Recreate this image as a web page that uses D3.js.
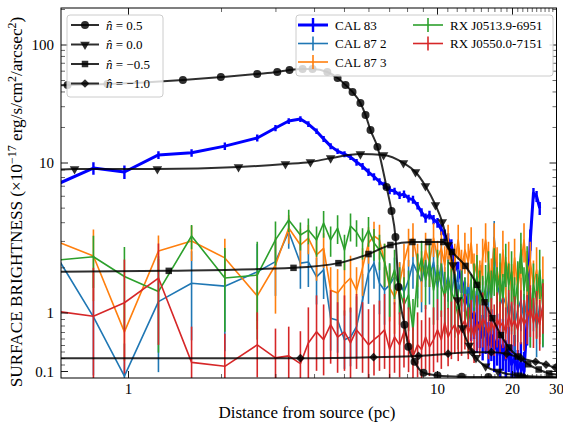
<!DOCTYPE html>
<html>
<head>
<meta charset="utf-8">
<script src="https://cdn.jsdelivr.net/npm/d3@7"></script>
<style>
  body { margin: 0; background: #fff; }
  svg { display: block; }
  text { font-family: "Liberation Serif", "DejaVu Serif", serif; fill: #000; }
</style>
</head>
<body>
<svg id="chart" width="563" height="425"></svg>
<script>
// Radial bins (pc) shared by every observed source
const distances = [0.6, 0.77, 0.97, 1.25, 1.6, 2.05, 2.61, 2.99, 3.3, 3.6, 3.82, 4.06, 4.28, 4.51, 4.75, 5.0, 5.23, 5.47, 5.72, 5.98, 6.23, 6.49, 6.74, 7.0, 7.26, 7.54, 7.79, 8.06, 8.33, 8.62, 8.88, 9.15, 9.42, 9.71, 10.0, 10.36, 10.69, 11.03, 11.37, 11.73, 12.11, 12.49, 12.88, 13.29, 13.65, 14.02, 14.4, 14.79, 15.18, 15.6, 16.02, 16.45, 16.89, 17.35, 17.82, 18.3, 18.79, 19.31, 19.83, 20.39, 20.99, 21.61, 22.24, 22.89, 23.57, 24.26, 24.97, 25.7, 26.46];

// Observed surface brightness profiles (x1e-17 erg/s/cm^2/arcsec^2) and 1-sigma errors
const cal83 = [7.36, 9.26, 8.71, 11.7, 12.2, 13.9, 16.3, 19.8, 22.7, 23.6, 21.4, 18.6, 16.0, 13.9, 12.6, 11.9, 11.2, 10.2, 9.5, 8.7, 8.1, 7.5, 7.1, 6.6, 6.5, 6.1, 6.2, 5.8, 5.7, 5.2, 4.7, 4.3, 4.5, 4.2, 4.0, 3.6, 3.3, 3.1, 2.8, 2.2, 1.9, 1.66, 1.32, 1.13, 0.92, 1.0, 0.74, 0.86, 0.62, 0.77, 0.51, 0.66, 0.44, 0.59, 0.36, 0.51, 0.28, 0.44, 0.21, 0.31, 0.13, 0.25, 0.1, 0.9, 3.1, 6.3, 6.0, 5.0, null];
const cal83Err = [0.5, 0.9, 0.9, 0.9, 0.9, 1.0, 1.1, 1.2, 1.3, 1.3, 1.2, 1.0, 0.9, 0.8, 0.7, 0.7, 0.6, 0.6, 0.5, 0.5, 0.45, 0.4, 0.4, 0.4, 0.35, 0.35, 0.35, 0.35, 0.35, 0.3, 0.3, 0.3, 0.3, 0.3, 0.3, 0.3, 0.3, 0.3, 0.3, 0.3, 0.3, 0.3, 0.3, 0.35, 0.35, 0.4, 0.35, 0.4, 0.35, 0.4, 0.35, 0.4, 0.35, 0.4, 0.35, 0.4, 0.3, 0.35, 0.3, 0.35, 0.3, 0.3, 0.3, 0.4, 0.5, 0.5, 0.5, 0.5, null];

const cal87b = [2.2, 0.94, 0.03, 1.19, 1.58, 1.51, 1.88, 2.2, 3.48, 2.15, 2.19, 1.74, 1.94, 0.92, 0.89, 0.59, 0.63, 0.79, 1.22, 1.85, 2.15, 1.58, 1.42, 1.54, 1.74, 1.58, 1.38, 1.66, 2.15, 1.85, 1.61, 2.19, 1.74, 2.19, 1.49, 2.15, 1.42, 1.79, 1.32, 1.88, 1.36, 1.71, 1.22, 1.58, 1.17, 1.47, 1.05, 1.49, 1.22, 1.13, 1.54, 1.22, 3.2, 1.58, 1.28, 1.13, 1.28, 0.92, 1.17, 0.82, 1.05, 1.22, 0.89, 1.28, 0.92, 1.22, 0.77, 1.13, 0.92];
const cal87bErr = [1.0, 0.9, 0.5, 1.1, 1.0, 1.1, 1.0, 0.9, 0.8, 0.7, 0.7, 0.6, 0.7, 0.5, 0.5, 0.45, 0.45, 0.5, 0.6, 0.7, 0.7, 0.6, 0.6, 0.6, 0.6, 0.6, 0.6, 0.6, 0.7, 0.6, 0.6, 0.7, 0.6, 0.7, 0.6, 0.7, 0.6, 0.6, 0.6, 0.6, 0.6, 0.6, 0.5, 0.6, 0.5, 0.6, 0.5, 0.6, 0.5, 0.5, 0.6, 0.5, 0.9, 0.6, 0.5, 0.5, 0.5, 0.45, 0.5, 0.45, 0.5, 0.5, 0.45, 0.5, 0.45, 0.5, 0.45, 0.5, 0.45];

const cal87c = [2.94, 2.40, 0.71, 2.59, 3.02, 2.33, 1.30, 2.09, 3.69, 2.84, 3.16, 2.44, 2.7, 1.42, 1.36, 1.56, 1.71, 1.42, 2.0, 2.93, 3.26, 3.07, 2.19, 1.47, 1.28, 1.58, 2.19, 2.84, 3.16, 2.19, 1.88, 2.63, 2.19, 3.16, 2.33, 2.7, 2.09, 3.07, 1.88, 2.19, 3.07, 1.94, 2.63, 2.19, 2.93, 1.79, 2.19, 1.54, 2.33, 3.07, 2.19, 1.61, 3.07, 1.94, 1.47, 2.63, 1.66, 2.19, 1.42, 2.33, 1.47, 2.09, 3.07, 1.79, 2.19, 1.54, 1.94, 1.22, 1.58];
const cal87cErr = [1.0, 1.2, 0.45, 0.7, 0.8, 0.8, 0.55, 1.1, 0.8, 0.8, 0.7, 0.8, 0.7, 0.6, 0.6, 0.6, 0.7, 0.6, 0.7, 0.8, 0.8, 0.8, 0.7, 0.6, 0.6, 0.6, 0.7, 0.8, 0.8, 0.7, 0.7, 0.8, 0.7, 0.8, 0.7, 0.8, 0.7, 0.8, 0.7, 0.7, 0.8, 0.7, 0.8, 0.7, 0.8, 0.7, 0.7, 0.7, 0.8, 0.9, 0.8, 0.7, 0.9, 0.8, 0.7, 0.9, 0.7, 0.8, 0.7, 0.8, 0.7, 0.8, 0.9, 0.8, 0.8, 0.7, 0.8, 0.7, 0.8];

const rxj0513 = [2.26, 2.37, 1.75, 1.39, 3.26, 1.71, 1.79, 3.07, 4.17, 3.31, 3.57, 3.07, 3.98, 3.07, 3.68, 2.63, 3.8, 3.46, 2.97, 3.57, 2.93, 2.63, 2.19, 1.54, 1.94, 1.42, 1.13, 1.32, 0.74, 1.79, 2.33, 1.66, 2.19, 1.42, 1.94, 1.54, 1.28, 1.66, 1.38, 1.22, 0.94, 1.32, 1.13, 0.85, 1.22, 1.54, 1.74, 1.32, 1.17, 1.49, 1.88, 1.32, 2.0, 1.42, 1.79, 1.22, 2.19, 1.54, 1.88, 1.13, 1.61, 2.63, 1.42, 2.09, 0.97, 1.54, 1.22, 1.94, 1.08];
const rxj0513Err = [0.9, 0.9, 1.0, 1.0, 0.6, 1.0, 1.2, 1.0, 0.7, 0.7, 0.7, 0.7, 0.8, 0.7, 0.8, 0.7, 0.8, 0.7, 0.7, 0.8, 0.7, 0.7, 0.7, 0.6, 0.7, 0.6, 0.6, 0.6, 0.5, 0.7, 0.7, 0.6, 0.7, 0.6, 0.7, 0.6, 0.6, 0.6, 0.6, 0.6, 0.5, 0.6, 0.6, 0.5, 0.6, 0.6, 0.7, 0.6, 0.6, 0.6, 0.7, 0.6, 0.7, 0.6, 0.7, 0.6, 0.7, 0.6, 0.7, 0.6, 0.6, 0.8, 0.6, 0.7, 0.5, 0.6, 0.6, 0.7, 0.6];

const rxj0550 = [1.02, 0.95, 1.17, 1.71, 0.24, 0.18, 0.51, 0.31, 0.34, 0.22, 0.54, 0.71, 0.59, 0.82, 0.63, 0.71, 0.54, 0.74, 0.63, 0.51, 0.59, 0.66, 0.74, 0.44, 0.63, 0.51, 0.71, 0.59, 0.33, 0.51, 0.44, 0.63, 0.48, 0.59, 0.74, 0.59, 0.85, 0.63, 0.74, 0.82, 0.66, 0.79, 0.89, 0.69, 0.82, 0.63, 0.86, 0.74, 0.92, 0.82, 0.69, 0.86, 0.74, 0.92, 0.79, 0.86, 0.69, 0.97, 0.79, 0.89, 0.74, 0.97, 0.82, 0.92, 1.08, 0.86, 1.0, 0.82, 1.13];
const rxj0550Err = [0.9, 1.05, 1.1, 1.2, 0.55, 0.5, 0.5, 0.45, 0.45, 0.5, 0.55, 0.6, 0.55, 0.6, 0.55, 0.6, 0.55, 0.6, 0.55, 0.55, 0.55, 0.55, 0.6, 0.5, 0.55, 0.5, 0.55, 0.5, 0.45, 0.5, 0.45, 0.5, 0.45, 0.5, 0.5, 0.45, 0.5, 0.45, 0.45, 0.45, 0.4, 0.45, 0.45, 0.4, 0.4, 0.4, 0.45, 0.4, 0.45, 0.4, 0.4, 0.4, 0.4, 0.45, 0.4, 0.4, 0.4, 0.45, 0.4, 0.4, 0.4, 0.45, 0.4, 0.4, 0.45, 0.4, 0.4, 0.4, 0.45];

// Model profiles for different density indices n-hat
const modelDistP05 = [0.55, 0.635, 0.855, 1.5, 1.99, 2.61, 3.03, 3.32, 3.66, 3.94, 4.4, 4.75, 5.04, 5.31, 5.63, 5.85, 6.07, 6.39, 6.84, 7.1, 7.31, 7.48, 7.82, 8.05, 8.43, 9.01, 10.0, 12.5, 16.0, 22.0, 31.0];
const modelP05 = [45.5, 45.8, 46.7, 50.5, 53.5, 56.8, 59.0, 61.4, 62.6, 62.6, 59.0, 52.5, 45.8, 40.0, 32.2, 25.5, 19.0, 13.7, 6.92, 4.79, 3.21, 1.49, 0.82, 0.48, 0.25, 0.08, 0.04, 0.02, 0.015, 0.01, 0.008];
const modelDist00 = [0.55, 0.669, 1.24, 2.27, 3.22, 3.88, 4.51, 5.63, 6.69, 7.76, 8.49, 9.14, 9.85, 10.45, 11.03, 11.53, 12.05, 12.6, 13.41, 14.27, 15.6, 17.5, 20.99, 31.0];
const model00 = [8.95, 9.12, 9.12, 9.4, 9.84, 10.2, 11.0, 11.9, 11.7, 10.0, 8.71, 7.03, 5.25, 4.04, 2.84, 2.09, 1.22, 0.77, 0.50, 0.31, 0.18, 0.10, 0.04, 0.01];
const modelDistM05 = [0.55, 1.35, 3.42, 4.78, 5.98, 7.04, 8.3, 9.35, 10.55, 11.43, 12.94, 14.4, 15.46, 16.6, 17.98, 19.31, 20.99, 23.12, 25.46, 28.04, 31.0];
const modelM05 = [1.88, 1.91, 2.0, 2.15, 2.47, 2.84, 2.97, 2.97, 2.97, 2.55, 2.06, 1.54, 1.18, 0.92, 0.66, 0.47, 0.33, 0.21, 0.13, 0.07, 0.05];
const modelDistM10 = [0.55, 3.6, 6.21, 8.68, 11.03, 13.77, 16.45, 18.96, 21.61, 24.74, 27.24, 29.72, 31.0];
const modelM10 = [0.305, 0.305, 0.32, 0.34, 0.374, 0.397, 0.397, 0.374, 0.305, 0.25, 0.206, 0.16, 0.15];

// Axis ticks
const xMajorTicks = [1, 10, 20, 30];
const xMinorTicks = [2, 3, 4, 5, 6, 7, 8, 9, 11, 12, 13, 14, 15, 16, 17, 18, 19, 21, 22, 23, 24, 25, 26, 27, 28, 29];
const yMajorTicks = [0.1, 1, 10, 100];
const yTickLabels = ["0.1", "1", "10", "100"];
const yMinorTicks = [0.2, 0.3, 0.4, 0.5, 0.6, 0.7, 0.8, 0.9, 2, 3, 4, 5, 6, 7, 8, 9, 20, 30, 40, 50, 60, 70, 80, 90, 200];

const svg = d3.select("#chart");
const box = { left: 61, right: 556.5, top: 8, bottom: 378 };

// x: logarithmic decades; y: linear below 1, logarithmic above
const xDecade = d3.scaleLinear()
  .domain([0, 1, Math.log10(20), Math.log10(30)])
  .range([128.5, 437.5, 512.5, 556.5]);
const x = d => xDecade(Math.log10(d));
const yDecade = d3.scaleLinear()
  .domain([-1, 0, 1, 2])
  .range([378, 313, 163, 45]);
const y = v => yDecade(v <= 1 ? v - 1 : Math.log10(v));

svg.append("defs").append("clipPath").attr("id", "plotClip")
  .append("rect")
  .attr("x", box.left).attr("y", box.top)
  .attr("width", box.right - box.left).attr("height", box.bottom - box.top);

const plot = svg.append("g").attr("clip-path", "url(#plotClip)");

const sources = [
  { name: "CAL 83", values: cal83, errors: cal83Err, color: "#0000ff", width: 3, barWidth: 2.4 },
  { name: "CAL 87 2", values: cal87b, errors: cal87bErr, color: "#1f77b4", width: 1.6, barWidth: 1.6 },
  { name: "CAL 87 3", values: cal87c, errors: cal87cErr, color: "#ff7f0e", width: 1.6, barWidth: 1.6 },
  { name: "RX J0513.9-6951", values: rxj0513, errors: rxj0513Err, color: "#2ca02c", width: 1.6, barWidth: 1.6 },
  { name: "RX J0550.0-7151", values: rxj0550, errors: rxj0550Err, color: "#d62728", width: 1.6, barWidth: 1.6 }
];

const idx = d3.range(distances.length);
sources.forEach(s => {
  const ok = i => s.values[i] != null;
  const g = plot.append("g");
  g.append("path")
    .attr("fill", "none")
    .attr("stroke", s.color)
    .attr("stroke-width", s.width)
    .attr("stroke-linejoin", "round")
    .attr("d", d3.line().defined(ok).x(i => x(distances[i])).y(i => y(s.values[i]))(idx));
  g.selectAll("line.err")
    .data(idx.filter(i => ok(i) && s.errors[i] != null))
    .join("line")
    .attr("class", "err")
    .attr("x1", i => x(distances[i])).attr("x2", i => x(distances[i]))
    .attr("y1", i => y(s.values[i] - s.errors[i]))
    .attr("y2", i => y(s.values[i] + s.errors[i]))
    .attr("stroke", s.color)
    .attr("stroke-width", s.barWidth);
});

const models = [
  { label: "0.5", dist: modelDistP05, values: modelP05, symbol: d3.symbolCircle, size: 50, rotate: 0 },
  { label: "0.0", dist: modelDist00, values: model00, symbol: d3.symbolTriangle, size: 40, rotate: 180 },
  { label: "\u22120.5", dist: modelDistM05, values: modelM05, symbol: d3.symbolSquare, size: 42, rotate: 0 },
  { label: "\u22121.0", dist: modelDistM10, values: modelM10, symbol: d3.symbolSquare, size: 38, rotate: 45 }
];
const modelColor = "rgba(0,0,0,0.82)";

models.forEach(m => {
  const pts = m.dist.map((d, i) => [x(d), y(m.values[i])]);
  const g = plot.append("g");
  g.append("path")
    .attr("fill", "none")
    .attr("stroke", modelColor)
    .attr("stroke-width", 2)
    .attr("d", d3.line().curve(d3.curveMonotoneX)(pts));
  g.selectAll("path.mk")
    .data(pts)
    .join("path")
    .attr("class", "mk")
    .attr("transform", p => `translate(${p[0]},${p[1]}) rotate(${m.rotate})`)
    .attr("d", d3.symbol().type(m.symbol).size(m.size)())
    .attr("fill", modelColor);
});

// frame and ticks
const axes = svg.append("g").attr("stroke", "#000");
axes.append("rect")
  .attr("x", box.left).attr("y", box.top)
  .attr("width", box.right - box.left).attr("height", box.bottom - box.top)
  .attr("fill", "none").attr("stroke-width", 1);

const majorLen = 7, minorLen = 4;
function xTick(v, len, w) {
  const px = x(v);
  axes.append("line").attr("x1", px).attr("x2", px).attr("y1", box.bottom).attr("y2", box.bottom - len).attr("stroke-width", w);
  axes.append("line").attr("x1", px).attr("x2", px).attr("y1", box.top).attr("y2", box.top + len).attr("stroke-width", w);
}
function yTick(v, len, w) {
  const py = y(v);
  axes.append("line").attr("y1", py).attr("y2", py).attr("x1", box.left).attr("x2", box.left + len).attr("stroke-width", w);
  axes.append("line").attr("y1", py).attr("y2", py).attr("x1", box.right).attr("x2", box.right - len).attr("stroke-width", w);
}
xMajorTicks.forEach(v => xTick(v, majorLen, 0.9));
xMinorTicks.forEach(v => xTick(v, minorLen, 0.6));
yMajorTicks.forEach(v => yTick(v, majorLen, 0.9));
yMinorTicks.forEach(v => yTick(v, minorLen, 0.6));

const labels = svg.append("g").style("font-size", "15px");
xMajorTicks.forEach(v => {
  labels.append("text").attr("x", x(v)).attr("y", 394).attr("text-anchor", "middle").text(String(v));
});
yMajorTicks.forEach((v, i) => {
  labels.append("text").attr("x", 54).attr("y", y(v) + 5).attr("text-anchor", "end").text(yTickLabels[i]);
});

svg.append("text")
  .attr("x", 307).attr("y", 418)
  .attr("text-anchor", "middle")
  .style("font-size", "17px")
  .text("Distance from source (pc)");

const yl = svg.append("text")
  .attr("transform", "translate(22,202) rotate(-90)")
  .attr("text-anchor", "middle")
  .style("font-size", "17.2px");
yl.append("tspan").text("SURFACE BRIGHTNESS (\u00d710");
yl.append("tspan").attr("dy", -6).style("font-size", "12px").text("\u221217");
yl.append("tspan").attr("dy", 6).text(" erg/s/cm");
yl.append("tspan").attr("dy", -6).style("font-size", "12px").text("2");
yl.append("tspan").attr("dy", 6).text("/arcsec");
yl.append("tspan").attr("dy", -6).style("font-size", "12px").text("2");
yl.append("tspan").attr("dy", 6).text(")");

// legend: model curves
const legL = svg.append("g");
legL.append("rect")
  .attr("x", 67).attr("y", 15).attr("width", 96).attr("height", 82).attr("rx", 3)
  .attr("fill", "rgba(255,255,255,0.8)").attr("stroke", "#cccccc").attr("stroke-width", 1);
models.forEach((m, i) => {
  const cy = 25 + i * 19.5;
  legL.append("line").attr("x1", 71).attr("x2", 99).attr("y1", cy).attr("y2", cy)
    .attr("stroke", modelColor).attr("stroke-width", 2);
  legL.append("path")
    .attr("transform", `translate(85,${cy}) rotate(${m.rotate})`)
    .attr("d", d3.symbol().type(m.symbol).size(m.size)())
    .attr("fill", modelColor);
  const t = legL.append("text").attr("x", 106).attr("y", cy + 4.5).style("font-size", "13px");
  t.append("tspan").style("font-style", "italic").text("n\u0302");
  t.append("tspan").text(" = " + m.label);
});

// legend: observed sources
const legR = svg.append("g");
legR.append("rect")
  .attr("x", 296).attr("y", 15).attr("width", 257).attr("height", 61).attr("rx", 3)
  .attr("fill", "rgba(255,255,255,0.8)").attr("stroke", "#cccccc").attr("stroke-width", 1);
sources.forEach((s, i) => {
  const col = i < 3 ? 0 : 1;
  const row = i < 3 ? i : i - 3;
  const cx = col === 0 ? 313 : 428;
  const cy = 25 + row * 18.5;
  legR.append("line").attr("x1", cx - 15).attr("x2", cx + 15).attr("y1", cy).attr("y2", cy)
    .attr("stroke", s.color).attr("stroke-width", s.width);
  legR.append("line").attr("x1", cx).attr("x2", cx).attr("y1", cy - 7).attr("y2", cy + 7)
    .attr("stroke", s.color).attr("stroke-width", s.barWidth);
  legR.append("text").attr("x", cx + 22).attr("y", cy + 4.5).style("font-size", "13px").text(s.name);
});
</script>
</body>
</html>
